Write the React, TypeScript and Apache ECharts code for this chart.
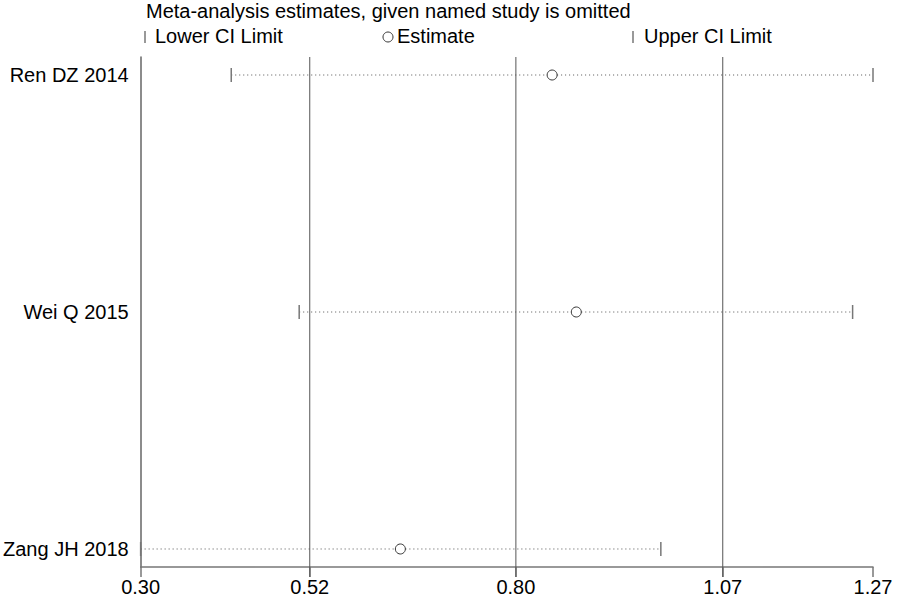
import React, { useEffect, useRef } from "react";
import * as echarts from "echarts";

const studies = ["Ren DZ 2014", "Wei Q 2015", "Zang JH 2018"];
const lowerCI = [0.42, 0.51, 0.3];
const estimates = [0.845, 0.877, 0.644];
const upperCI = [1.27, 1.243, 0.989];
const refLines = [0.524, 0.797, 1.071];
const tickValues = [0.3, 0.524, 0.797, 1.071, 1.27];
const titleText = "Meta-analysis estimates, given named study is omitted";
const legendLabels = ["Lower CI Limit", "Estimate", "Upper CI Limit"];

const FONT = "Liberation Sans, Arial, sans-serif";
const FS = 20;

export default function App() {
  const ref = useRef<HTMLDivElement>(null);
  useEffect(() => {
    document.body.style.margin = "0";
    const chart = echarts.init(ref.current!, null, { renderer: "svg" });
    const rows = studies.map((s, i) => [i, lowerCI[i], estimates[i], upperCI[i]]);
    chart.setOption({
      animation: false,
      backgroundColor: "#ffffff",
      textStyle: { fontFamily: FONT },
      grid: { left: 140, right: 27, top: 57, bottom: 30 },
      xAxis: {
        type: "value",
        min: 0.3,
        max: 1.27,
        axisLine: { show: true, onZero: false, lineStyle: { color: "#777", width: 1.5 } },
        axisTick: {
          show: true,
          customValues: tickValues,
          length: 10,
          lineStyle: { color: "#777", width: 1.5 },
        },
        axisLabel: {
          customValues: tickValues,
          formatter: (v: number) => v.toFixed(2),
          color: "#000",
          fontSize: FS,
          fontFamily: FONT,
          margin: 10,
        },
        splitLine: { show: false },
      },
      yAxis: {
        type: "value",
        inverse: true,
        min: -0.076,
        max: 2.076,
        axisLine: { show: true, onZero: false, lineStyle: { color: "#666", width: 1.5 } },
        axisTick: { show: false },
        axisLabel: {
          customValues: [0, 1, 2],
          formatter: (v: number) => studies[Math.round(v)] ?? "",
          color: "#000",
          fontSize: FS,
          fontFamily: FONT,
          margin: 12,
        },
        splitLine: { show: false },
      },
      graphic: [
        {
          type: "text",
          left: 146,
          top: 1,
          style: { text: titleText, fontSize: FS, fontFamily: FONT, fill: "#000" },
        },
        { type: "line", shape: { x1: 145, y1: 31, x2: 145, y2: 43 }, style: { stroke: "#777", lineWidth: 1.5 } },
        { type: "text", left: 155, top: 26, style: { text: legendLabels[0], fontSize: FS, fontFamily: FONT, fill: "#000" } },
        { type: "circle", shape: { cx: 388, cy: 37, r: 5 }, style: { stroke: "#333", fill: "none", lineWidth: 1 } },
        { type: "text", left: 397, top: 26, style: { text: legendLabels[1], fontSize: FS, fontFamily: FONT, fill: "#000" } },
        { type: "line", shape: { x1: 633, y1: 31, x2: 633, y2: 43 }, style: { stroke: "#777", lineWidth: 1.5 } },
        { type: "text", left: 644, top: 26, style: { text: legendLabels[2], fontSize: FS, fontFamily: FONT, fill: "#000" } },
      ],
      series: [
        {
          type: "custom",
          clip: false,
          silent: true,
          data: refLines.map((v) => [v]),
          renderItem: (params: any, api: any) => {
            const cs = params.coordSys;
            const x = api.coord([api.value(0), 0])[0];
            return {
              type: "line",
              shape: { x1: x, y1: cs.y, x2: x, y2: cs.y + cs.height + 10 },
              style: { stroke: "#555", lineWidth: 1 },
            };
          },
        },
        {
          type: "custom",
          clip: false,
          data: rows,
          renderItem: (params: any, api: any) => {
            const y = api.value(0);
            const lo = api.coord([api.value(1), y]);
            const est = api.coord([api.value(2), y]);
            const hi = api.coord([api.value(3), y]);
            const capH = 7;
            return {
              type: "group",
              children: [
                {
                  type: "line",
                  shape: { x1: lo[0], y1: lo[1], x2: est[0] - 5, y2: est[1] },
                  style: { stroke: "#555", lineWidth: 1, lineDash: [1, 3] },
                },
                {
                  type: "line",
                  shape: { x1: est[0] + 5, y1: est[1], x2: hi[0], y2: hi[1] },
                  style: { stroke: "#555", lineWidth: 1, lineDash: [1, 3] },
                },
                {
                  type: "line",
                  shape: { x1: lo[0], y1: lo[1] - capH, x2: lo[0], y2: lo[1] + capH },
                  style: { stroke: "#777", lineWidth: 1.5 },
                },
                {
                  type: "line",
                  shape: { x1: hi[0], y1: hi[1] - capH, x2: hi[0], y2: hi[1] + capH },
                  style: { stroke: "#777", lineWidth: 1.5 },
                },
                {
                  type: "circle",
                  shape: { cx: est[0], cy: est[1], r: 5 },
                  style: { stroke: "#333", fill: "none", lineWidth: 1 },
                },
              ],
            };
          },
        },
      ],
    });
    return () => chart.dispose();
  }, []);
  return <div ref={ref} style={{ width: 900, height: 597 }} />;
}
